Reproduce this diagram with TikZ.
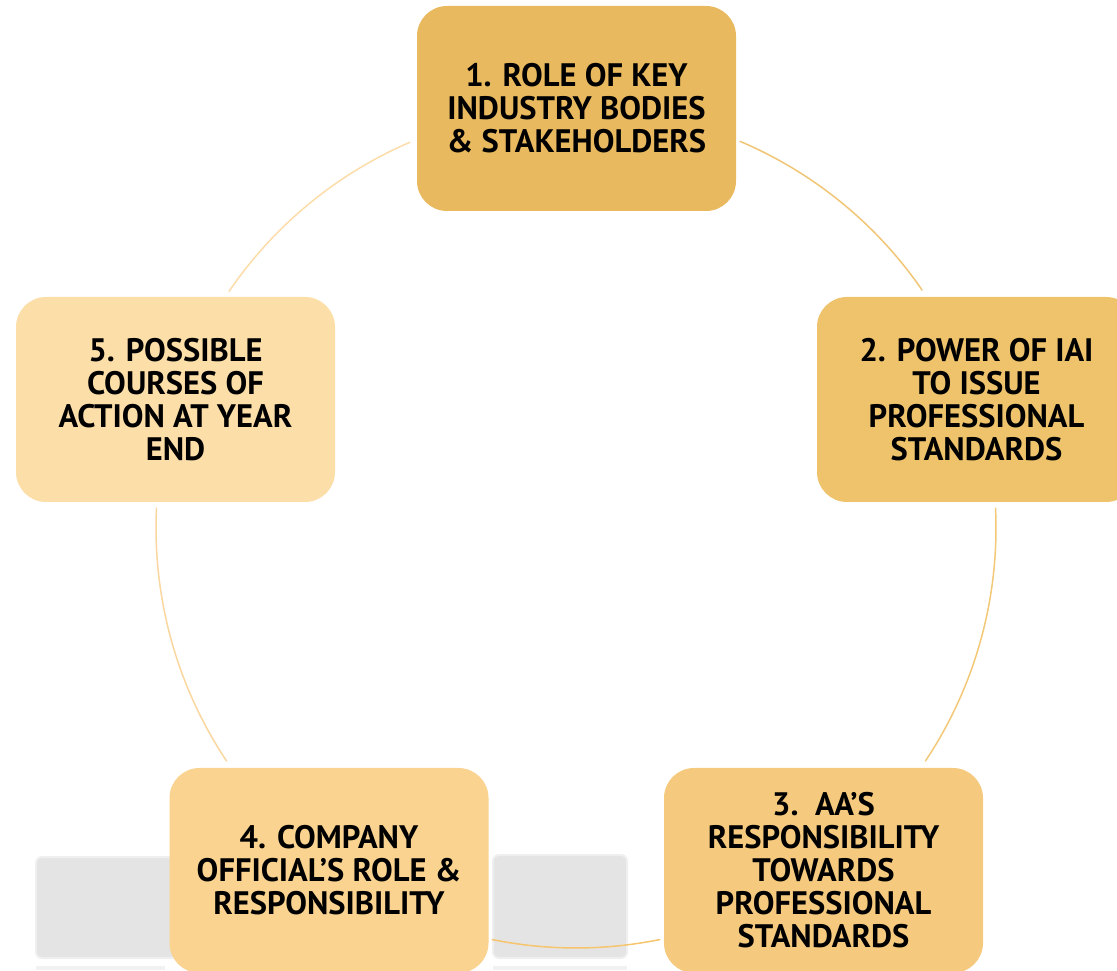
\documentclass[tikz,border=0pt]{standalone}
\usepackage{fontspec}
\setmainfont{PT Sans}
\begin{document}
\definecolor{boxA}{HTML}{E8B95E}
\definecolor{boxB}{HTML}{EEC36C}
\definecolor{boxC}{HTML}{F5CA7E}
\definecolor{boxD}{HTML}{F9D38F}
\definecolor{boxE}{HTML}{FCDEA8}
\definecolor{arcA}{HTML}{F0C676}
\definecolor{arcB}{HTML}{F3C878}
\definecolor{arcC}{HTML}{F6C56E}
\definecolor{arcD}{HTML}{F9D79E}
\definecolor{arcE}{HTML}{FCDDAA}
\definecolor{shade}{HTML}{E4E4E4}
\begin{tikzpicture}[x=1pt,y=1pt,
  stage/.style={rounded corners=30pt, minimum width=319pt, minimum height=205pt,
    align=center, inner sep=0pt,
    font=\fontsize{32.5}{33}\selectfont\bfseries, text=black},
  ring/.style={line width=1.5pt, line cap=round},
  ghost/.style={fill=shade, draw=shade!60, line width=2pt, rounded corners=6pt}]
\useasboundingbox (0,0) rectangle (1117,970);
\clip (0,0) rectangle (1117,970);
% grey placeholders behind the lower stages
\fill[ghost] (36,12) rectangle (180,113);
\fill[ghost] (493,12) rectangle (627,115);
\fill[shade!50] (36,0) rectangle (165,4);
\fill[shade!50] (493,0) rectangle (627,4);
% centre of the cycle
\coordinate (c) at (576,442);
% ring segments between the stages
\draw[ring, arcA] ([shift={(c)}]67:420) arc[start angle=67, end angle=34.5, radius=420];
\draw[ring, arcB] ([shift={(c)}]2.7:420) arc[start angle=2.7, end angle=-33.7, radius=420];
\draw[ring, arcC] ([shift={(c)}]-78.5:420) arc[start angle=-78.5, end angle=-101.5, radius=420];
\draw[ring, arcD] ([shift={(c)}]-146.3:420) arc[start angle=-146.3, end angle=-182.7, radius=420];
\draw[ring, arcE] ([shift={(c)}]145.7:420) arc[start angle=145.7, end angle=113.3, radius=420];
% the five stages
\node[stage, fill=boxA] (s1) at (576.5,861.5) {1. ROLE OF KEY\\INDUSTRY BODIES\\\& STAKEHOLDERS};
\node[stage, fill=boxB] (s2) at (976.5,570.5) {2. POWER OF IAI\\TO ISSUE\\PROFESSIONAL\\STANDARDS};
\node[stage, fill=boxC] (s3) at (823.5,99.5) {3.\ \ AA’S\\RESPONSIBILITY\\TOWARDS\\PROFESSIONAL\\STANDARDS};
\node[stage, fill=boxD] (s4) at (329,99.5) {4. COMPANY\\OFFICIAL’S ROLE \&\\RESPONSIBILITY};
\node[stage, fill=boxE] (s5) at (175.5,570.5) {5. POSSIBLE\\COURSES OF\\ACTION AT YEAR\\END};
\end{tikzpicture}
\end{document}
